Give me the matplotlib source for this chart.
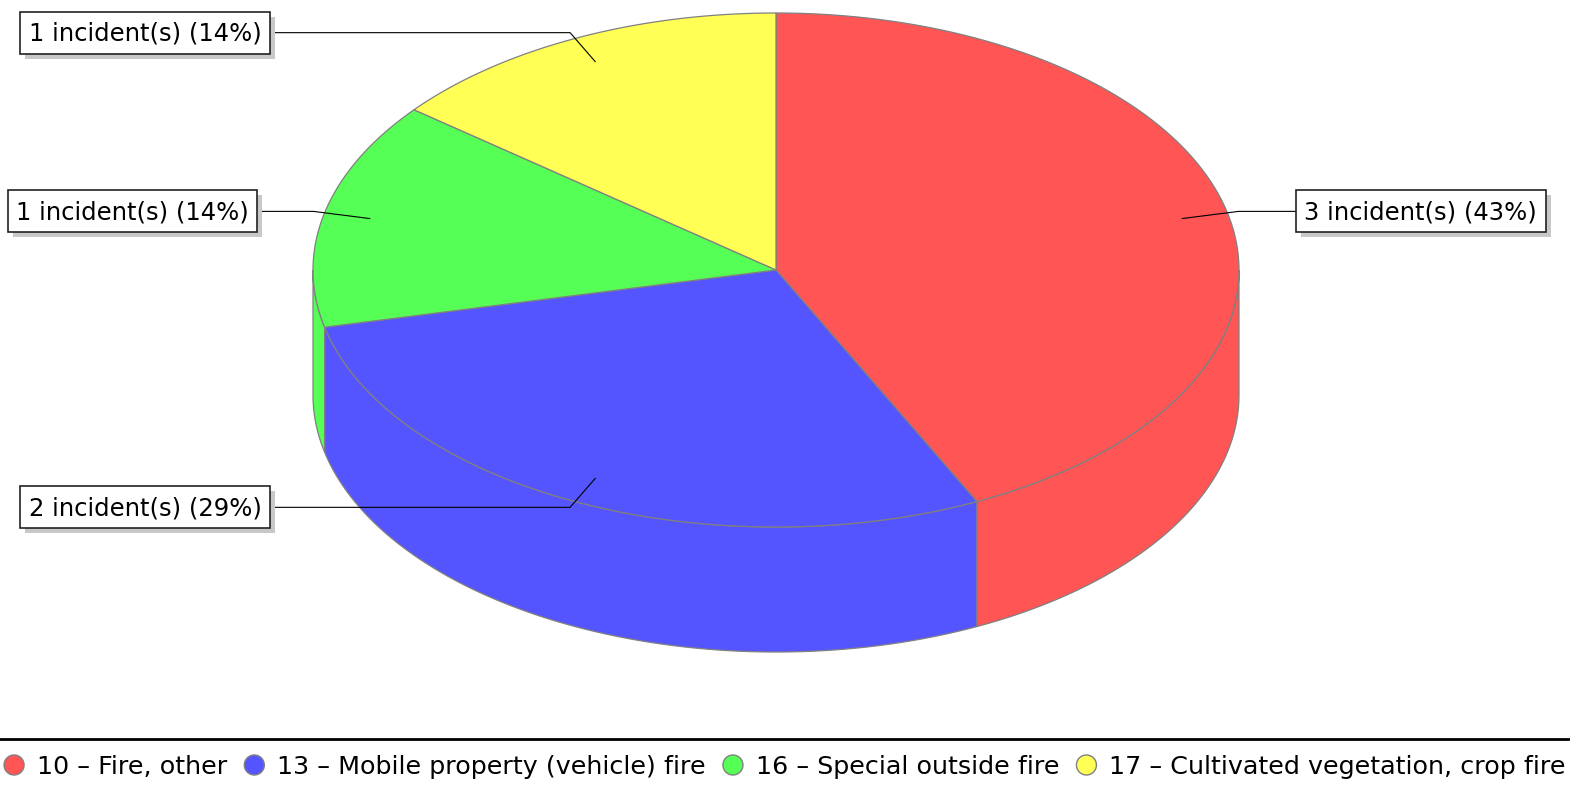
import numpy as np
import matplotlib
matplotlib.use('Agg')
import matplotlib.pyplot as plt
from matplotlib.patches import Polygon, Rectangle, Circle

# incident types and how many of each
categories = ['10 – Fire, other',
              '13 – Mobile property (vehicle) fire',
              '16 – Special outside fire',
              '17 – Cultivated vegetation, crop fire']
counts = [3, 2, 1, 1]
colors = ['#FF5555', '#5555FF', '#55FF55', '#FFFF55']

FAMILY = 'DejaVu Sans'

W, H = 1570, 786
fig = plt.figure(figsize=(W / 100, H / 100), dpi=100)
ax = fig.add_axes([0, 0, 1, 1])
ax.set_xlim(0, W)
ax.set_ylim(H, 0)
ax.axis('off')

# pie ellipse geometry (pixels)
CX, CY, RX, RY, DEPTH = 776, 270, 463, 257, 125
EDGE = '#808080'


def pt(t, r=1.0, dy=0.0):
    t = np.radians(t)
    return CX + r * RX * np.cos(t), CY - r * RY * np.sin(t) + dy


total = sum(counts)
angles = []
start = 90.0
for c in counts:
    ext = 360.0 * c / total
    angles.append((start, start - ext))
    start -= ext

# side walls (only the front half is visible)
for (s, e), col in zip(angles, colors):
    lo, hi = max(e, -180.0), min(s, 0.0)
    if lo >= hi:
        continue
    ts = np.linspace(hi, lo, 200)
    tx, ty = pt(ts)
    bx, by = pt(ts[::-1], dy=DEPTH)
    xy = np.column_stack([np.r_[tx, bx], np.r_[ty, by]])
    ax.add_patch(Polygon(xy, closed=True, facecolor=col, edgecolor=EDGE,
                         lw=0.9, zorder=1))

# top face
for (s, e), col in zip(angles, colors):
    ts = np.linspace(s, e, 300)
    tx, ty = pt(ts)
    xy = np.column_stack([np.r_[CX, tx], np.r_[CY, ty]])
    ax.add_patch(Polygon(xy, closed=True, facecolor=col, edgecolor=EDGE,
                         lw=0.9, zorder=2))

# labels with leader lines
renderer = fig.canvas.get_renderer()
LFS = 17.5
for (s, e), c in zip(angles, counts):
    mid = (s + e) / 2
    ax_, ay_ = pt(mid, 0.9)
    kx, ky = pt(mid, 1.025)
    txt = f'{c} incident(s) ({round(100 * c / total)}%)'
    t = ax.text(0, ky + 1, txt, fontsize=LFS, ha='center', va='center',
                family=FAMILY, zorder=6)
    w = t.get_window_extent(renderer).width + 17
    h = 42
    if np.cos(np.radians(mid)) > 0:
        left = max(kx + 56, 1296)
        edge_x = left
    else:
        right = min(kx - 56, 270)
        left = right - w
        edge_x = right
    t.set_x(left + w / 2)
    ax.plot([ax_, kx, edge_x], [ay_, ky, ky], color='black', lw=0.8, zorder=3)
    ax.add_patch(Rectangle((left + 5, ky - h / 2 + 5), w, h, facecolor='#C8C8C8',
                           edgecolor='none', zorder=4))
    ax.add_patch(Rectangle((left, ky - h / 2), w, h, facecolor='white',
                           edgecolor='#222222', lw=1.2, zorder=5))

# legend
ax.plot([0, W], [739, 739], color='black', lw=2.0, zorder=3)
GFS = 18.3
R = 10
items = []
for name in categories:
    t = ax.text(0, 767, name, fontsize=GFS, ha='left', va='center',
                family=FAMILY, zorder=6)
    items.append((t, t.get_window_extent(renderer).width))
widths = [2 * R + 13 + w for _, w in items]
total_w = sum(widths) + 17 * (len(items) - 1)
x = W / 2 - total_w / 2
for (t, w), col in zip(items, colors):
    ax.add_patch(Circle((x + R, 765), R, facecolor=col, edgecolor=EDGE,
                        lw=1.0, zorder=5))
    t.set_x(x + 2 * R + 13)
    x += 2 * R + 13 + w + 17

fig.savefig('out.png', dpi=100)
